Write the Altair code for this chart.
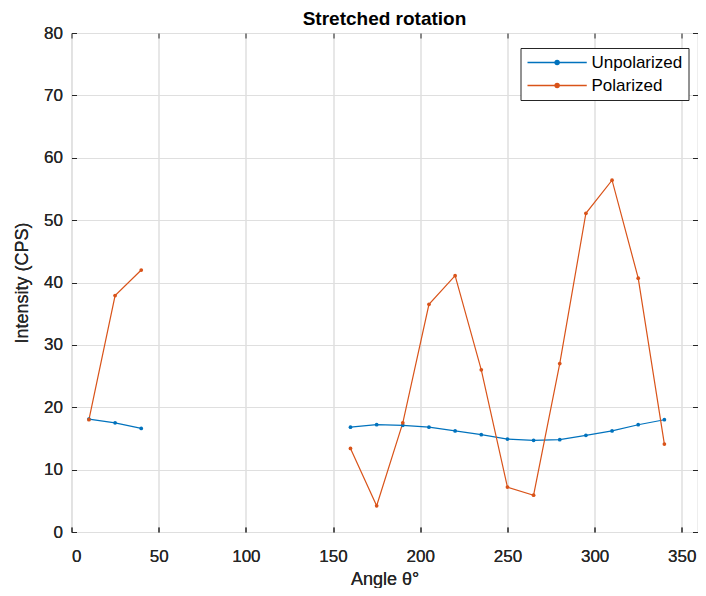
import altair as alt
import pandas as pd

angles = [10, 25, 40, 160, 175, 190, 205, 220, 235, 250, 265, 280, 295, 310, 325, 340]
unpolarized = [18.1, 17.5, 16.6, 16.8, 17.2, 17.1, 16.8, 16.2, 15.6, 14.9, 14.7, 14.8, 15.5, 16.2, 17.2, 18.0]
polarized = [18.0, 37.9, 42.0, 13.4, 4.2, 17.5, 36.5, 41.1, 26.0, 7.2, 5.9, 27.0, 51.1, 56.4, 40.7, 14.1]
series_names = ["Unpolarized", "Polarized"]
series_colors = ["#0072BD", "#D95319"]
x_ticks = [0, 50, 100, 150, 200, 250, 300, 350]
y_ticks = [0, 10, 20, 30, 40, 50, 60, 70, 80]

rows = []
for name, vals in zip(series_names, [unpolarized, polarized]):
    for a, v in zip(angles, vals):
        rows.append({"angle": a, "value": v, "series": name, "segment": 0 if a < 100 else 1})
df = pd.DataFrame(rows)

FONT = "Liberation Sans"
AX = "#262626"

xscale = alt.Scale(domain=[0, 359], nice=False, zero=False)
yscale = alt.Scale(domain=[0, 80], nice=False)

color = alt.Color(
    "series:N",
    sort=series_names,
    scale=alt.Scale(domain=series_names, range=series_colors),
    legend=alt.Legend(
        title=None,
        orient="none",
        legendX=449,
        legendY=15,
        fillColor="white",
        strokeColor=AX,
        padding=6,
        labelFontSize=17,
        labelFont=FONT,
        labelColor="#000000",
        labelOffset=48,
        symbolType="M-1,0H6.9M3.22,0A0.27,0.27 0 1 1 2.68,0A0.27,0.27 0 1 1 3.22,0",
        symbolSize=225,
        symbolStrokeWidth=1.4,
        rowPadding=5,
    ),
)

base = alt.Chart(df).encode(
    x=alt.X(
        "angle:Q",
        scale=xscale,
        axis=alt.Axis(
            orient="bottom",
            values=x_ticks,
            offset=-5,
            tickSize=5,
            tickColor=AX,
            domain=False,
            grid=True,
            gridColor="#dfdfdf",
            labelPadding=16,
            labelFontSize=17,
            labelFont=FONT,
            labelColor=AX,
            title="Angle θ°",
            titleFont=FONT,
            titleFontSize=18,
            titleFontWeight="normal",
            titleColor=AX,
            titlePadding=6,
        ),
    ),
    y=alt.Y(
        "value:Q",
        scale=yscale,
        axis=alt.Axis(
            orient="left",
            values=y_ticks,
            offset=-5,
            tickSize=5,
            tickColor=AX,
            domain=False,
            grid=True,
            gridColor="#dfdfdf",
            labelPadding=9,
            labelFontSize=17,
            labelFont=FONT,
            labelColor=AX,
            title="Intensity (CPS)",
            titleFont=FONT,
            titleFontSize=18,
            titleFontWeight="normal",
            titleColor=AX,
            titlePadding=12,
        ),
    ),
    color=color,
    detail="segment:N",
)

lines = base.mark_line(strokeWidth=1.2)
points = base.mark_point(filled=True, size=14, opacity=1)

frame = alt.Chart(df).mark_point(opacity=0).encode(
    x=alt.X(
        "angle:Q",
        scale=xscale,
        axis=alt.Axis(orient="top", values=x_ticks, offset=-5, tickSize=5, tickColor=AX,
                      domain=False, grid=False, labels=False, title=None),
    ),
    y=alt.Y(
        "value:Q",
        scale=yscale,
        axis=alt.Axis(orient="right", values=y_ticks, offset=-5, tickSize=5, tickColor=AX,
                      domain=False, grid=False, labels=False, title=None),
    ),
)

chart = (
    alt.layer(lines, points, frame)
    .resolve_axis(x="independent", y="independent")
    .properties(
        width=626,
        height=499,
        title=alt.TitleParams(
            "Stretched rotation",
            fontSize=19,
            fontWeight="bold",
            font=FONT,
            color="#000000",
            anchor="middle",
            offset=-5,
        ),
        autosize=alt.AutoSizeParams(type="none"),
        padding={"left": 63.5, "top": 25, "right": 0.5, "bottom": 56},
    )
    .configure_view(stroke=AX, strokeWidth=1)
    .configure(background="white")
)

chart.save("out.html", embed_options={"renderer": "svg", "actions": False})
